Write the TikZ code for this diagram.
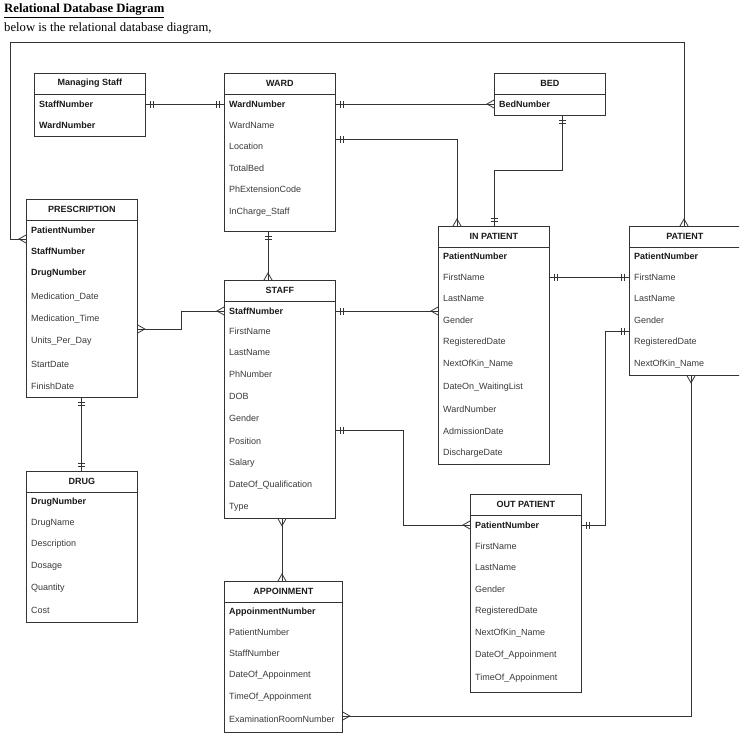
\documentclass[tikz,border=0pt]{standalone}
\usepackage{fontspec}
\setmainfont{Liberation Serif}
\newfontfamily\arialf{Liberation Sans}
\usetikzlibrary{calc}
\definecolor{linec}{HTML}{333333}
\definecolor{attc}{HTML}{3A3A3A}
\definecolor{keyc}{HTML}{1A1A1A}
\tikzset{
  ent/.style={draw=linec, line width=0.8pt, anchor=north west, inner sep=0pt, fill=white},
  hdr/.style={font=\arialf\bfseries\fontsize{9}{10}\selectfont, text=keyc, inner sep=0pt},
  att/.style={anchor=west, font=\arialf\fontsize{9}{10}\selectfont, text=attc, inner sep=0pt},
  keyatt/.style={anchor=west, font=\arialf\bfseries\fontsize{9}{10}\selectfont, text=keyc, inner sep=0pt},
  conn/.style={draw=linec, line width=0.8pt},
}
\newcommand\entity[6]{%
  \node[ent, minimum width=#4pt, minimum height=#5pt] (#1) at (#2,#3) {};
  \draw[conn] ($(#1.north west)+(0,21)$) -- ($(#1.north east)+(0,21)$);
  \node[hdr] (#1-t) at ($(#1.north)+(0,10.5)$) {#6};}
\newcommand\mone[3]{%
  \draw[conn] ($(#1)+5*(#2,#3)+3.5*(#3,#2)$) -- ($(#1)+5*(#2,#3)-3.5*(#3,#2)$);
  \draw[conn] ($(#1)+8*(#2,#3)+3.5*(#3,#2)$) -- ($(#1)+8*(#2,#3)-3.5*(#3,#2)$);}
\newcommand\many[3]{%
  \draw[conn] ($(#1)+4*(#3,#2)$) -- ($(#1)+7*(#2,#3)$) -- ($(#1)-4*(#3,#2)$);}
\begin{document}
\begin{tikzpicture}[x=1pt,y=-1pt]
\useasboundingbox[fill=white] (0,0) rectangle (739,755);
\clip (0,0) rectangle (739,755);

% title
\node[anchor=west, inner sep=0pt, font=\fontsize{12.7}{14}\selectfont\bfseries] (title) at (4,10.5) {\underline{Relational Database Diagram}};
\node[anchor=west, inner sep=0pt, font=\fontsize{12.7}{14}\selectfont] (sub) at (4,28) {below is the relational database diagram,};

% entities
\entity{ms}{34}{73}{111}{63}{Managing Staff}
\node[keyatt] (ms-1) at (39,104) {StaffNumber};
\node[keyatt] (ms-2) at (39,125) {WardNumber};

\entity{ward}{224}{73}{111}{158}{WARD}
\node[keyatt] (ward-1) at (229,104) {WardNumber};
\node[att] (ward-2) at (229,125) {WardName};
\node[att] (ward-3) at (229,146) {Location};
\node[att] (ward-4) at (229,168) {TotalBed};
\node[att] (ward-5) at (229,189) {PhExtensionCode};
\node[att] (ward-6) at (229,212) {InCharge\_Staff};

\entity{bed}{494}{73}{111}{42}{BED}
\node[keyatt] (bed-1) at (499,104) {BedNumber};

\entity{presc}{26}{199}{111}{198}{PRESCRIPTION}
\node[keyatt] (presc-1) at (31,230) {PatientNumber};
\node[keyatt] (presc-2) at (31,251) {StaffNumber};
\node[keyatt] (presc-3) at (31,273) {DrugNumber};
\node[att] (presc-4) at (31,297) {Medication\_Date};
\node[att] (presc-5) at (31,319) {Medication\_Time};
\node[att] (presc-6) at (31,341) {Units\_Per\_Day};
\node[att] (presc-7) at (31,364) {StartDate};
\node[att] (presc-8) at (31,386) {FinishDate};

\entity{staff}{224}{280}{111}{238}{STAFF}
\node[keyatt] (staff-1) at (229,311) {StaffNumber};
\node[att] (staff-2) at (229,331) {FirstName};
\node[att] (staff-3) at (229,352) {LastName};
\node[att] (staff-4) at (229,374) {PhNumber};
\node[att] (staff-5) at (229,396) {DOB};
\node[att] (staff-6) at (229,418) {Gender};
\node[att] (staff-7) at (229,441) {Position};
\node[att] (staff-8) at (229,463) {Salary};
\node[att] (staff-9) at (229,485) {DateOf\_Qualification};
\node[att] (staff-10) at (229,507) {Type};

\entity{inp}{438}{226}{111}{238}{IN PATIENT}
\node[keyatt] (inp-1) at (443,256) {PatientNumber};
\node[att] (inp-2) at (443,277) {FirstName};
\node[att] (inp-3) at (443,298) {LastName};
\node[att] (inp-4) at (443,320) {Gender};
\node[att] (inp-5) at (443,342) {RegisteredDate};
\node[att] (inp-6) at (443,364) {NextOfKin\_Name};
\node[att] (inp-7) at (443,387) {DateOn\_WaitingList};
\node[att] (inp-8) at (443,409) {WardNumber};
\node[att] (inp-9) at (443,431) {AdmissionDate};
\node[att] (inp-10) at (443,453) {DischargeDate};

\entity{pat}{629}{226}{111}{149}{PATIENT}
\node[keyatt] (pat-1) at (634,256) {PatientNumber};
\node[att] (pat-2) at (634,277) {FirstName};
\node[att] (pat-3) at (634,298) {LastName};
\node[att] (pat-4) at (634,320) {Gender};
\node[att] (pat-5) at (634,342) {RegisteredDate};
\node[att] (pat-6) at (634,364) {NextOfKin\_Name};

\entity{drug}{26}{471}{111}{151}{DRUG}
\node[keyatt] (drug-1) at (31,502) {DrugNumber};
\node[att] (drug-2) at (31,523) {DrugName};
\node[att] (drug-3) at (31,544) {Description};
\node[att] (drug-4) at (31,566) {Dosage};
\node[att] (drug-5) at (31,588) {Quantity};
\node[att] (drug-6) at (31,610) {Cost};

\entity{app}{224}{581}{118}{151}{APPOINMENT}
\node[keyatt] (app-1) at (229,612) {AppoinmentNumber};
\node[att] (app-2) at (229,632) {PatientNumber};
\node[att] (app-3) at (229,653) {StaffNumber};
\node[att] (app-4) at (229,675) {DateOf\_Appoinment};
\node[att] (app-5) at (229,697) {TimeOf\_Appoinment};
\node[att] (app-6) at (229,719) {ExaminationRoomNumber};

\entity{outp}{470}{494}{111}{198}{OUT PATIENT}
\node[keyatt] (outp-1) at (475,525) {PatientNumber};
\node[att] (outp-2) at (475,546) {FirstName};
\node[att] (outp-3) at (475,567) {LastName};
\node[att] (outp-4) at (475,589) {Gender};
\node[att] (outp-5) at (475,611) {RegisteredDate};
\node[att] (outp-6) at (475,633) {NextOfKin\_Name};
\node[att] (outp-7) at (475,655) {DateOf\_Appoinment};
\node[att] (outp-8) at (475,678) {TimeOf\_Appoinment};

% connector end points
\coordinate (c1a) at (ms.east |- ms-1.west);
\coordinate (c1b) at (ward.west |- ward-1.west);
\coordinate (c2a) at (ward.east |- ward-1.west);
\coordinate (c2b) at (bed.west |- bed-1.west);
\coordinate (c3a) at (ward.east |- 0,139);
\coordinate (c3b) at (inp.north -| 457,0);
\coordinate (c4a) at (bed.south -| 562,0);
\coordinate (c4b) at (inp.north -| 494,0);
\coordinate (c5a) at (ward.south -| 268,0);
\coordinate (c5b) at (staff.north -| 268,0);
\coordinate (c6a) at (presc.east |- 0,329);
\coordinate (c6b) at (staff.west |- staff-1.west);
\coordinate (c7a) at (staff.east |- staff-1.west);
\coordinate (c7b) at (inp.west |- staff-1.west);
\coordinate (c8a) at (inp.east |- inp-2.west);
\coordinate (c8b) at (pat.west |- inp-2.west);
\coordinate (c9a) at (pat.west |- 0,331);
\coordinate (c9b) at (outp.east |- outp-1.west);
\coordinate (c10a) at (staff.east |- 0,430);
\coordinate (c10b) at (outp.west |- outp-1.west);
\coordinate (c11a) at (staff.south -| 282,0);
\coordinate (c11b) at (app.north -| 282,0);
\coordinate (c12a) at (pat.south -| 691,0);
\coordinate (c12b) at (app.east |- 0,716);
\coordinate (c13a) at (presc.south -| 81,0);
\coordinate (c13b) at (drug.north -| 81,0);
\coordinate (c14a) at (presc.west |- 0,239);
\coordinate (c14b) at (pat.north -| 684,0);

% connectors
\draw[conn] (c1a) -- (c1b);
\mone{c1a}{1}{0} \mone{c1b}{-1}{0}
\draw[conn] (c2a) -- (c2b);
\mone{c2a}{1}{0} \many{c2b}{-1}{0}
\draw[conn] (c3a) -| (c3b);
\mone{c3a}{1}{0} \many{c3b}{0}{-1}
\draw[conn] (c4a) -- (562,170) -| (c4b);
\mone{c4a}{0}{1} \mone{c4b}{0}{-1}
\draw[conn] (c5a) -- (c5b);
\mone{c5a}{0}{1} \many{c5b}{0}{-1}
\draw[conn] (c6a) -- (181,329) |- (c6b);
\many{c6a}{1}{0} \many{c6b}{-1}{0}
\draw[conn] (c7a) -- (c7b);
\mone{c7a}{1}{0} \many{c7b}{-1}{0}
\draw[conn] (c8a) -- (c8b);
\mone{c8a}{1}{0} \mone{c8b}{-1}{0}
\draw[conn] (c9a) -- (605,331) |- (c9b);
\mone{c9a}{-1}{0} \mone{c9b}{1}{0}
\draw[conn] (c10a) -- (403,430) |- (c10b);
\mone{c10a}{1}{0} \many{c10b}{-1}{0}
\draw[conn] (c11a) -- (c11b);
\many{c11a}{0}{1} \many{c11b}{0}{-1}
\draw[conn] (c12a) |- (c12b);
\many{c12a}{0}{1} \many{c12b}{1}{0}
\draw[conn] (c13a) -- (c13b);
\mone{c13a}{0}{1} \mone{c13b}{0}{-1}
\draw[conn] (c14a) -- (10,239) -- (10,42) -| (c14b);
\many{c14a}{-1}{0} \many{c14b}{0}{-1}
\end{tikzpicture}
\end{document}
